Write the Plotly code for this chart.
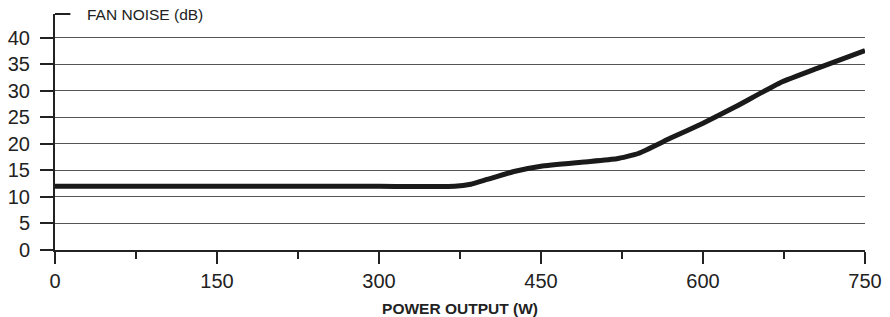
import plotly.graph_objects as go

power_w = [0, 150, 300, 370, 385, 400, 425, 450, 490, 520, 540, 570, 600, 630, 672, 705, 750]
noise_db = [12, 12, 12, 12, 12.4, 13.3, 14.8, 15.8, 16.6, 17.2, 18.2, 21.1, 23.9, 27.0, 31.6, 34.2, 37.6]

x_ticks = [0, 150, 300, 450, 600, 750]
y_ticks = [0, 5, 10, 15, 20, 25, 30, 35, 40]

FONT = "Liberation Sans, Arial, Helvetica, sans-serif"

fig = go.Figure()
fig.add_trace(go.Scatter(
    x=power_w, y=noise_db, mode="lines",
    line=dict(color="#1a1a1a", width=5, shape="spline", smoothing=0.4),
    showlegend=False, hoverinfo="skip",
))

fig.update_layout(
    width=890, height=317,
    margin=dict(l=55, r=25, t=14, b=67),
    paper_bgcolor="white", plot_bgcolor="white",
    font=dict(family=FONT, color="#222"),
    xaxis=dict(
        range=[0, 750], tickvals=x_ticks, ticktext=[str(v) for v in x_ticks],
        automargin=False,
        showgrid=False, zeroline=False,
        showline=True, linecolor="#222", linewidth=2,
        ticks="outside", ticklen=12, tickwidth=2, tickcolor="#222",
        tickfont=dict(size=20, color="#222"),
        minor=dict(dtick=75, tick0=0, ticks="outside", ticklen=7, tickwidth=2, tickcolor="#222", showgrid=False),
        title=dict(text="<b>POWER OUTPUT (W)</b>", font=dict(size=15.5, color="#222"), standoff=18),
    ),
    yaxis=dict(
        range=[0, 44.5], tickvals=y_ticks, ticktext=[str(v) for v in y_ticks],
        automargin=False,
        showgrid=True, gridcolor="#555", gridwidth=1.3,
        zeroline=False,
        showline=True, linecolor="#222", linewidth=2,
        ticks="outside", ticklen=13, tickwidth=2, tickcolor="#222",
        ticklabelstandoff=6,
        tickfont=dict(size=20, color="#222"),
    ),
    shapes=[dict(type="line", xref="paper", yref="paper", x0=0, x1=0.019, y0=1, y1=1,
                 line=dict(color="#222", width=2))],
    annotations=[dict(text="FAN NOISE (dB)", xref="paper", yref="paper", x=0.037, y=1,
                      xanchor="left", yanchor="middle", showarrow=False,
                      font=dict(size=15.5, color="#222", family=FONT))],
)

fig.write_html("out.html")
